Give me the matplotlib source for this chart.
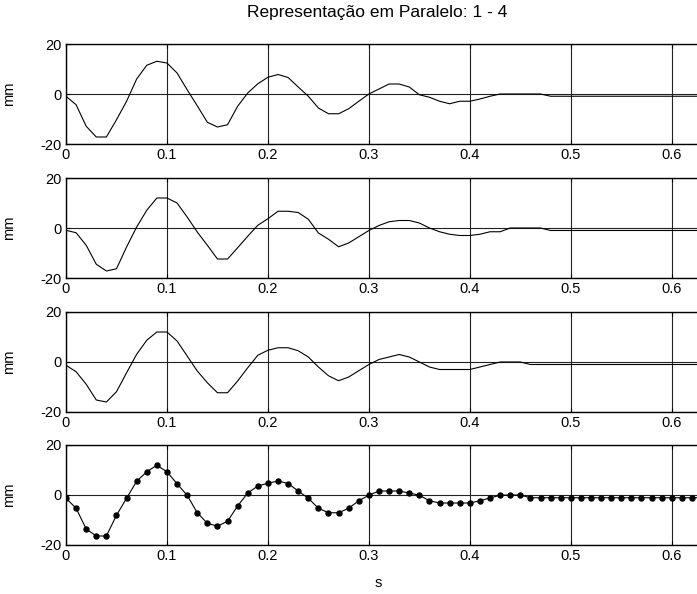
import matplotlib
matplotlib.use("Agg")
import matplotlib.pyplot as plt
import numpy as np

plt.rcParams['font.family'] = ['Liberation Sans', 'DejaVu Sans']

# sample times (s), 0.01 s step
t = np.round(np.arange(0, 0.64, 0.01), 2)

# sensor 1
s1 = [-0.9, -4.3, -12.9, -17.2, -17.2, -10.3, -2.9, 6.0, 11.5, 13.1,
      12.4, 8.4, 1.7, -4.7, -11.3, -13.2, -12.3, -4.9, 0.4, 4.1,
      6.7, 7.8, 6.6, 2.8, -0.9, -5.6, -7.9, -7.9, -5.9, -2.9,
      0.0, 2.0, 4.0, 4.0, 2.8, -0.3, -1.3, -2.9, -3.9, -2.9,
      -2.9, -2.0, -0.9, 0.0, 0.0, 0.0, 0.0, 0.0, -0.9, -0.9,
      -0.9, -0.9, -0.9, -0.9, -0.9, -0.9, -0.9, -0.9, -0.9, -0.9,
      -0.9, -0.9, -0.9, -0.9]
# sensor 2
s2 = [-0.9, -1.9, -6.9, -14.5, -17.2, -16.3, -7.6, 0.4, 7.1, 12.0,
      12.0, 10.0, 4.4, -1.6, -6.9, -12.4, -12.4, -7.9, -3.3, 1.1,
      3.7, 6.7, 6.7, 6.2, 3.5, -2.0, -4.5, -7.5, -6.0, -3.5,
      -1.0, 1.0, 2.5, 3.0, 3.0, 2.0, 0.0, -1.5, -2.5, -3.0,
      -3.0, -2.5, -1.5, -1.5, 0.0, 0.0, 0.0, 0.0, -1.0, -1.0,
      -1.0, -1.0, -1.0, -1.0, -1.0, -1.0, -1.0, -1.0, -1.0, -1.0,
      -1.0, -1.0, -1.0, -1.0]
# sensor 3
s3 = [-1.3, -3.9, -8.9, -15.2, -16.0, -11.9, -4.3, 3.1, 8.7, 12.0,
      12.0, 8.4, 2.4, -3.6, -8.3, -12.3, -12.3, -7.6, -2.3, 2.7,
      4.7, 5.7, 5.7, 4.5, 2.0, -2.0, -5.5, -7.5, -6.0, -3.5,
      -1.0, 1.0, 2.0, 3.0, 2.0, 0.0, -2.0, -3.0, -3.0, -3.0,
      -3.0, -2.0, -1.0, 0.0, 0.0, 0.0, -1.0, -1.0, -1.0, -1.0,
      -1.0, -1.0, -1.0, -1.0, -1.0, -1.0, -1.0, -1.0, -1.0, -1.0,
      -1.0, -1.0, -1.0, -1.0]
# sensor 4 (sampled points)
s4 = [-1.3, -5.3, -13.6, -16.4, -16.4, -8.1, -1.3, 5.5, 9.3, 11.9,
      9.3, 4.5, -0.1, -7.1, -11.3, -12.5, -10.5, -4.4, 0.8, 3.6,
      4.7, 5.6, 4.6, 1.6, -1.3, -5.3, -7.1, -7.1, -5.3, -2.3,
      -0.1, 1.6, 1.6, 1.6, 0.8, -0.1, -2.3, -3.2, -3.2, -3.2,
      -3.2, -2.3, -1.2, -0.1, 0.0, 0.0, -1.1, -1.1, -1.1, -1.1,
      -1.1, -1.1, -1.1, -1.1, -1.1, -1.1, -1.1, -1.1, -1.1, -1.1,
      -1.1, -1.1, -1.1, -1.1]

series = [s1, s2, s3, s4]
xticks = [0, 0.1, 0.2, 0.3, 0.4, 0.5, 0.6]
xticklabels = ['0', '0.1', '0.2', '0.3', '0.4', '0.5', '0.6']
yticks = [-20, 0, 20]

W, H = 697, 594
fig = plt.figure(figsize=(W / 100, H / 100), dpi=100)

tops = [44, 178, 312, 445]
for i, top in enumerate(tops):
    ax = fig.add_axes([66 / W, 1 - (top + 100) / H, 631 / W, 100 / H])
    if i == 3:
        ax.plot(t, series[i], color='black', lw=0.8, marker='o', ms=3.6,
                mfc='black', mec='black')
    else:
        ax.plot(t, series[i], color='black', lw=0.8)
    ax.set_xlim(0, 0.625)
    ax.set_ylim(-20, 20)
    ax.set_xticks(xticks)
    ax.set_xticklabels(xticklabels)
    ax.set_yticks(yticks)
    ax.set_yticklabels(['-20', '0', '20'])
    ax.tick_params(direction='in', length=3, width=0.8, labelsize=10.5,
                   top=True, right=False, pad=3, colors='black')
    ax.grid(True, color='#222222', lw=0.8, ls='-')
    ax.set_axisbelow(True)
    for side in ['left', 'bottom', 'top']:
        ax.spines[side].set_linewidth(1.0)
    ax.spines['right'].set_visible(False)
    ax.set_ylabel('mm', fontsize=10.5)
    ax.yaxis.set_label_coords(-50 / 631, 0.5)

fig.text(377 / W, 1 - 12 / H, 'Representação em Paralelo: 1 - 4',
         ha='center', va='center', fontsize=12.5)
fig.text(378 / W, 1 - 583 / H, 's', ha='center', va='center', fontsize=10.5)

fig.savefig('out.png', dpi=100)
